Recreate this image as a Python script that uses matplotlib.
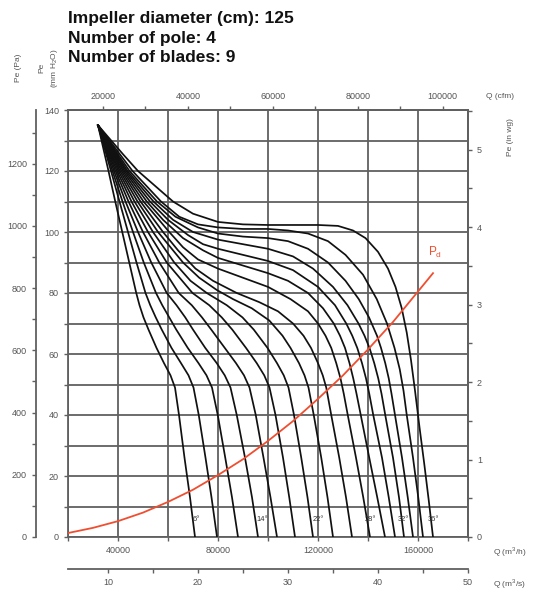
"""
fan curves, impeller 125 cm
"""

import numpy as np
import matplotlib.pyplot as plt
from matplotlib.ticker import MultipleLocator, FixedLocator, FuncFormatter

# blade angles (deg) of the 16 curves
blade_angles = [6, 8, 10, 12, 14, 16, 18, 20, 22, 24, 26, 28, 30, 32, 34, 36]

# Q in 1000 m3/h, Pe in mm H2O
low_pe = [135, 120, 110, 100, 90, 80, 76, 72, 68, 62, 57, 53, 49, 40, 26, 13, 0]
curve_q_k = [
    [32, 36.2, 38.9, 41.7, 44.5, 47.3, 48.6, 50.2, 52.2, 55.4, 58.4, 61.0, 62.8, 64.4, 66.6, 68.8, 70.8],
    [32, 37.2, 40.6, 44, 47.4, 51, 52.9, 55.1, 57.5, 61.4, 65.2, 68.2, 70.2, 72.3, 75, 77.4, 79.6],
    [32, 37.8, 41.8, 46, 50.3, 55.2, 57.7, 60.5, 63.3, 67.9, 72.2, 75.4, 77.6, 79.9, 82.9, 85.6, 88],
    [32, 38.4, 43, 48, 53.3, 59.5, 63.4, 66.9, 70, 74.9, 79.5, 82.7, 85, 87.5, 90.8, 93.6, 96],
    [32, 39, 44.2, 50, 56.5, 64.3, 69.5, 73.6, 77.3, 82.7, 87.2, 90.4, 92.6, 95.1, 98.2, 101, 103.6],
    [32, 39.6, 45.4, 52, 59.5, 69.8, 76.5, 81.5, 85.7, 91.2, 95.5, 98.5, 100.6, 103, 106, 108.5, 110.8],
    [32, 40.2, 46.6, 54, 62.5, 69, 75.5, 83.5, 89.8, 94.3, 99.8, 103.6, 106.3, 108.2, 110.4, 113.3,
     115.8, 118],
    [32, 40.8, 47.8, 56, 66, 72.5, 79.5, 86, 93.5, 100.5, 105.8, 109, 112.4, 114.6, 116.2, 118.3,
     121.3, 123.8, 126],
    [32, 41.4, 49, 58, 64, 71, 78, 87.5, 96.5, 104, 110, 114.2, 117.2, 120, 121.9, 123.3, 125.3,
     128.5, 131.2, 133.6],
    [32, 42, 50.2, 60.5, 66, 72, 80, 90, 100, 109, 116, 120, 123, 125.3, 127.3, 129, 130.3, 131.9,
     135.2, 138.1, 140.8],
    [32, 42.6, 51.5, 58, 66, 74, 80, 90, 100, 108, 116, 122, 126.3, 128.8, 130.8, 132.6, 134.1,
     135.4, 137.1, 140.5, 143.7, 146.8],
    [32, 43.2, 52.8, 60, 68, 74, 80, 90, 100, 110, 120, 126.8, 131.3, 133.7, 135.7, 137.6, 139.2,
     140.5, 142.1, 145.6, 148.3, 150.8],
    [32, 43.8, 54.2, 62, 70, 80, 90, 100, 110, 118, 126, 131.8, 136.2, 138.6, 140.6, 142.5, 144.1,
     145.4, 146.9, 150, 152.4, 154.4],
    [32, 44.6, 55.6, 63, 72, 80, 90, 100, 108, 116, 124, 131, 136.3, 140.4, 143.6, 145.2, 146.9,
     148.3, 149.4, 150.8, 153.6, 155.9, 158],
    [32, 45.8, 57.2, 64.5, 72, 80, 90, 100, 108, 116, 124, 131, 138, 143.5, 147.6, 150.6, 152.7,
     154.2, 155.5, 158, 160.1, 162],
    [32, 42, 48, 55, 62, 70, 80, 90, 100, 110, 120, 128, 134, 139, 144, 148, 151, 153.5, 155.5,
     157.2, 158.8, 160.6, 162.5, 164.3, 166],
]
curve_pe = [
    low_pe, low_pe, low_pe, low_pe, low_pe, low_pe,
    [135, 120, 110, 100, 90, 84, 80, 76, 72, 68, 62, 57, 53, 49, 40, 26, 13, 0],
    [135, 120, 110, 100, 90, 85, 81, 78, 75, 71, 66, 62, 57, 53, 49, 40, 26, 13, 0],
    [135, 120, 110, 100, 94, 88, 84, 80, 77, 74, 70, 66, 62, 57, 53, 49, 40, 26, 13, 0],
    [135, 120, 110, 100, 95, 91, 88, 85, 82, 78, 74, 70, 66, 62, 57, 52, 47, 40, 26, 13, 0],
    [135, 120, 110, 104, 98, 94, 91.5, 89, 86.5, 84, 80, 75, 70, 66, 62, 57, 52, 47, 40, 26, 13, 0],
    [135, 120, 110, 104, 99, 96, 94.5, 92.5, 90.5, 87.5, 82, 76, 70, 66, 62, 57, 52, 47, 40, 26, 13, 0],
    [135, 120, 110, 104, 100, 97.5, 96, 94.5, 92, 88, 82, 76, 70, 66, 62, 57, 52, 47, 40, 26, 13, 0],
    [135, 120, 110, 105, 101.5, 99.5, 98.5, 98, 97, 94.5, 90, 84, 78, 72, 66, 62, 57, 52, 47, 40,
     26, 13, 0],
    [135, 120, 110, 105, 102.5, 101.5, 101, 101, 100.5, 99.5, 97, 92.5, 86, 78, 70, 62, 55, 48, 40,
     26, 13, 0],
    [135, 125.5, 120, 115, 110, 106, 103.3, 102.5, 102.3, 102.3, 102.3, 102, 100.5, 98, 93.5, 88,
     82, 75, 67, 58, 48, 36, 24, 12, 0],
]

# dynamic pressure Pd
pd_q_k = [20, 30, 40, 50, 60, 70, 80, 90, 100, 110, 120, 130, 140, 150, 160, 166]
pd_pe = [1.3, 3.0, 5.2, 8.0, 11.5, 15.5, 20.3, 25.5, 31.5, 38, 45.3, 53, 61.5, 70.5, 80.5, 86.5]

labelled_angles = ['6°', '14°', '22°', '28°', '32°', '36°']

W, H = 537, 596


def fx(px):
    return px / W


def fy(py):
    return 1 - py / H


if __name__ == '__main__':
    plt.rcParams['font.family'] = ['Liberation Sans', 'DejaVu Sans']
    gridc = '#606060'
    tickc = '#555555'

    fig = plt.figure(figsize=(W / 100, H / 100), dpi=100)
    ax = fig.add_axes([fx(68), fy(537), 400 / W, 427 / H])

    for q, pe in zip(curve_q_k, curve_pe):
        ax.plot(np.array(q) * 1000, pe, color='#111111', lw=1.25,
                solid_joinstyle='round', zorder=3)

    ax.plot(np.array(pd_q_k) * 1000, pd_pe, color='#f04e30', lw=1.3, zorder=4)
    ax.text(166800, 93.4, r'P$_\mathregular{d}$', color='#f04e30', fontsize=8.5,
            ha='center', va='center')

    # angle labels at the foot of the curves
    label_q = [71200, 97600, 120000, 140800, 154000, 166000]
    for q, s in zip(label_q, labelled_angles):
        ax.text(q, 5.6, s, fontsize=5.4, color='#333333', ha='center', va='center', zorder=5)

    ax.set_xlim(20000, 180000)
    ax.set_ylim(0, 140)
    ax.xaxis.set_major_locator(FixedLocator([40000, 80000, 120000, 160000]))
    ax.xaxis.set_minor_locator(FixedLocator([20000, 60000, 100000, 140000, 180000]))
    ax.yaxis.set_major_locator(MultipleLocator(20))
    ax.yaxis.set_minor_locator(MultipleLocator(10))
    ax.xaxis.set_major_formatter(FuncFormatter(lambda v, p: f'{v:.0f}'))
    ax.grid(which='both', color=gridc, lw=1.3, zorder=1)
    ax.tick_params(which='both', colors=gridc, labelcolor=tickc, labelsize=6.5,
                   direction='out', length=3, width=1, right=False, top=False)
    for sp in ax.spines.values():
        sp.set_color(gridc)
        sp.set_linewidth(1.3)

    # Pa axis on the far left
    pa = ax.secondary_yaxis(-0.08, functions=(lambda x: x * 9.80665, lambda x: x / 9.80665))
    pa.yaxis.set_major_locator(FixedLocator([0, 200, 400, 600, 800, 1000, 1200]))
    pa.yaxis.set_minor_locator(FixedLocator([100, 300, 500, 700, 900, 1100, 1300]))
    # in wg on the right
    inwg = ax.secondary_yaxis('right', functions=(lambda x: x / 25.4, lambda x: x * 25.4))
    inwg.yaxis.set_major_locator(FixedLocator([0, 1, 2, 3, 4, 5]))
    inwg.yaxis.set_minor_locator(FixedLocator([0.5, 1.5, 2.5, 3.5, 4.5, 5.5]))
    # cfm on top
    cfm = ax.secondary_xaxis('top', functions=(lambda q: q / 1.699, lambda c: c * 1.699))
    cfm.xaxis.set_major_locator(FixedLocator([20000, 40000, 60000, 80000, 100000]))
    cfm.xaxis.set_minor_locator(FixedLocator([30000, 50000, 70000, 90000]))
    cfm.xaxis.set_major_formatter(FuncFormatter(lambda v, p: f'{v:.0f}'))
    # m3/s below
    m3s = ax.secondary_xaxis(-0.075, functions=(lambda q: q / 3600, lambda s: s * 3600))
    m3s.xaxis.set_major_locator(FixedLocator([10, 20, 30, 40, 50]))
    m3s.xaxis.set_minor_locator(FixedLocator([15, 25, 35, 45]))

    for sec in (pa, inwg, cfm, m3s):
        sec.tick_params(which='both', colors=gridc, labelcolor=tickc, labelsize=6.5,
                        direction='out', length=3, width=1)
        for sp in sec.spines.values():
            sp.set_color(gridc)
            sp.set_linewidth(1.3)

    # axis titles
    small = dict(fontsize=6, color=tickc)
    fig.text(fx(500), fy(96), 'Q (cfm)', ha='center', va='center', **small)
    fig.text(fx(510), fy(137), 'Pe (in wg)', rotation=90, ha='center', va='center', **small)
    fig.text(fx(510), fy(552), r'Q (m$^\mathregular{3}$/h)', ha='center', va='center', **small)
    fig.text(fx(510), fy(584), r'Q (m$^\mathregular{3}$/s)', ha='center', va='center', **small)
    fig.text(fx(18), fy(68), 'Pe (Pa)', rotation=90, ha='center', va='center', **small)
    fig.text(fx(49), fy(68), 'Pe\n(mm H$_\\mathregular{2}$O)', rotation=90, ha='center',
             va='center', multialignment='center', linespacing=1.6, **small)

    head = ['Impeller diameter (cm): 125', 'Number of pole: 4', 'Number of blades: 9']
    for k, s in enumerate(head):
        fig.text(fx(68), fy(18 + 20 * k), s, fontsize=12.5, fontweight='bold',
                 ha='left', va='center', color='#111111')

    fig.savefig('out.png', dpi=100)
